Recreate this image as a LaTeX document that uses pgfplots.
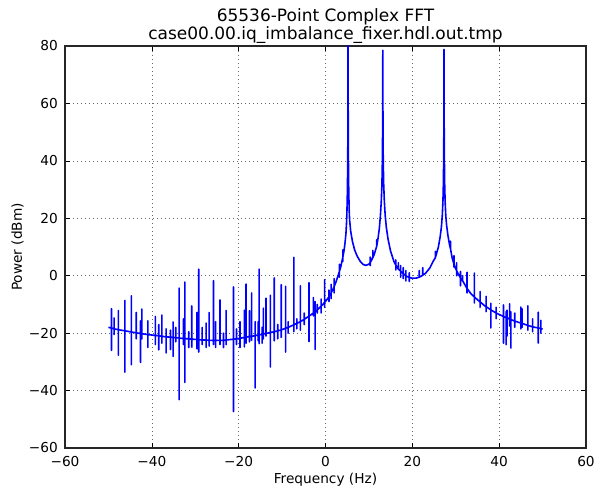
\documentclass[border=0pt]{standalone}
\usepackage{fontspec}
\setmainfont{DejaVu Sans}
\usepackage{pgfplots}
\pgfplotsset{compat=1.18}
\newcommand{\lblfont}{\fontsize{13.7bp}{16bp}\selectfont}
\newcommand{\ttlfont}{\fontsize{17bp}{20bp}\selectfont}
\begin{document}
\begin{tikzpicture}
\useasboundingbox (-65bp,-45bp) rectangle (538bp,448bp);
\begin{axis}[
 scale only axis, width=521bp, height=402bp,
 at={(0,0)}, anchor=south west,
 xmin=-60, xmax=60, ymin=-60, ymax=80,
 xtick={-60,-40,-20,0,20,40,60}, ytick={-60,-40,-20,0,20,40,60,80},
 xticklabels={−60,−40,−20,0,20,40,60},
 yticklabels={−60,−40,−20,0,20,40,60,80},
 tick align=inside, major tick length=5bp,
 tick style={black, line width=0.6bp},
 grid=major, grid style={black!60, line width=0.5bp, dash pattern=on 1bp off 3bp},
 axis line style={black!85, line width=1.1bp},
 ticklabel style={font=\lblfont, inner sep=0pt},
 xticklabel style={yshift=-8bp},
 yticklabel style={xshift=-7bp},
]
\addplot[blue, line width=1.6bp, line join=round] coordinates {
(-50,-18.0)
(-49.3,-18.2) (-49.3,-11.5) (-49.3,-26) (-49.3,-18.2)
(-48.7,-18.5) (-48.7,-14.7) (-48.7,-20.5) (-48.7,-18.5)
(-47.7,-18.8) (-47.7,-12.1) (-47.7,-27.7) (-47.7,-18.8)
(-46.2,-19.2) (-46.2,-8.6) (-46.2,-33.6) (-46.2,-19.2)
(-44.7,-19.6) (-44.7,-7) (-44.7,-31) (-44.7,-19.6)
(-43.6,-19.9) (-43.6,-12.8) (-43.6,-22) (-43.6,-19.9)
(-42.6,-20.1) (-42.6,-15.7) (-42.6,-30.2) (-42.6,-20.1)
(-42.3,-20.2) (-42.3,-11.6) (-42.3,-22) (-42.3,-20.2)
(-40.9,-20.5) (-40.9,-15.7) (-40.9,-25) (-40.9,-20.5)
(-39.2,-20.8) (-39.2,-14.2) (-39.2,-24) (-39.2,-20.8)
(-38.4,-20.9) (-38.4,-17) (-38.4,-25.8) (-38.4,-20.9)
(-37.7,-21.1) (-37.7,-13.7) (-37.7,-23.5) (-37.7,-21.1)
(-36.7,-21.3) (-36.7,-18.5) (-36.7,-26.9) (-36.7,-21.3)
(-35.7,-21.4) (-35.7,-19) (-35.7,-25.7) (-35.7,-21.4)
(-35.1,-21.5) (-35.1,-16.1) (-35.1,-28.1) (-35.1,-21.5)
(-34.5,-21.6) (-34.5,-18) (-34.5,-23) (-34.5,-21.6)
(-33.7,-21.7) (-33.7,-4.3) (-33.7,-43.2) (-33.7,-21.7)
(-32.7,-21.9) (-32.7,-15) (-32.7,-24) (-32.7,-21.9)
(-32.4,-21.9) (-32.4,-2.2) (-32.4,-37.2) (-32.4,-21.9)
(-31.5,-22.0) (-31.5,-19.5) (-31.5,-25) (-31.5,-22.0)
(-30.8,-22.1) (-30.8,-10.5) (-30.8,-24.9) (-30.8,-22.1)
(-29.6,-22.2) (-29.6,-12.8) (-29.6,-25.5) (-29.6,-22.2)
(-29.2,-22.3) (-29.2,2.3) (-29.2,-26.6) (-29.2,-22.3)
(-28.4,-22.4) (-28.4,-18) (-28.4,-24) (-28.4,-22.4)
(-27.5,-22.4) (-27.5,-16.5) (-27.5,-25) (-27.5,-22.4)
(-26.8,-22.5) (-26.8,-12.8) (-26.8,-24.5) (-26.8,-22.5)
(-25.8,-22.5) (-25.8,-1.7) (-25.8,-24) (-25.8,-22.5)
(-25.3,-22.5) (-25.3,-16) (-25.3,-25) (-25.3,-22.5)
(-24.3,-22.5) (-24.3,-8.4) (-24.3,-24) (-24.3,-22.5)
(-23.5,-22.5) (-23.5,-20) (-23.5,-25) (-23.5,-22.5)
(-22.9,-22.4) (-22.9,-12.1) (-22.9,-24) (-22.9,-22.4)
(-21.2,-22.1) (-21.2,-3.9) (-21.2,-47.3) (-21.2,-22.1)
(-20.5,-22.0) (-20.5,-18.5) (-20.5,-24) (-20.5,-22.0)
(-19.7,-21.8) (-19.7,-16) (-19.7,-25) (-19.7,-21.8)
(-18.7,-21.5) (-18.7,-12) (-18.7,-24.8) (-18.7,-21.5)
(-18.3,-21.4) (-18.3,-2.9) (-18.3,-23.5) (-18.3,-21.4)
(-17.5,-21.2) (-17.5,-12.2) (-17.5,-23) (-17.5,-21.2)
(-17.0,-21.1) (-17.0,-6) (-17.0,-22.5) (-17.0,-21.1)
(-16.2,-20.9) (-16.2,-16) (-16.2,-39.1) (-16.2,-20.9)
(-15.5,-20.6) (-15.5,-16) (-15.5,-22.7) (-15.5,-20.6)
(-15.3,-20.6) (-15.3,2.3) (-15.3,-23.7) (-15.3,-20.6)
(-14.6,-20.4) (-14.6,-18) (-14.6,-23.5) (-14.6,-20.4)
(-14.3,-20.3) (-14.3,-11.3) (-14.3,-22) (-14.3,-20.3)
(-13.7,-20.1) (-13.7,-7.8) (-13.7,-21) (-13.7,-20.1)
(-12.7,-19.8) (-12.7,-6.8) (-12.7,-31.8) (-12.7,-19.8)
(-11.8,-19.5) (-11.8,-0.8) (-11.8,-22.7) (-11.8,-19.5)
(-11.0,-19.2) (-11.0,-17) (-11.0,-22) (-11.0,-19.2)
(-10.2,-18.9) (-10.2,-3.1) (-10.2,-21.5) (-10.2,-18.9)
(-9.2,-18.3) (-9.2,-3.7) (-9.2,-26.6) (-9.2,-18.3)
(-8.6,-18.0) (-8.6,-16) (-8.6,-20) (-8.6,-18.0)
(-7.3,-17.1) (-7.3,6.4) (-7.3,-19.5) (-7.3,-17.1)
(-6.6,-16.6) (-6.6,-15) (-6.6,-18.5) (-6.6,-16.6)
(-5.8,-16.0) (-5.8,-3.5) (-5.8,-19) (-5.8,-16.0)
(-4.9,-15.2) (-4.9,-13) (-4.9,-17) (-4.9,-15.2)
(-3.8,-14.1) (-3.8,-2.4) (-3.8,-22.9) (-3.8,-14.1)
(-2.8,-13.0) (-2.8,-7.6) (-2.8,-14) (-2.8,-13.0)
(-2.4,-12.5) (-2.4,-9) (-2.4,-25.7) (-2.4,-12.5)
(-1.9,-11.9) (-1.9,-10) (-1.9,-13) (-1.9,-11.9)
(-1.0,-10.6) (-1.0,-8.1) (-1.0,-13) (-1.0,-10.6)
(-0.2,-9.3) (-0.2,-1.4) (-0.2,-11) (-0.2,-9.3)
(0.5,-8.0)
(0.8,-7.3) (0.8,-5) (0.8,-9) (0.8,-7.3)
(1.3,-6.0) (1.3,-3) (1.3,-8) (1.3,-6.0)
(2.0,-3.8) (2.0,-1) (2.0,-6) (2.0,-3.8)
(2.5,-1.8) (3.0,0.5)
(3.2,1.5) (3.2,4) (3.2,-0.5) (3.2,1.5)
(3.5,3.0)
(4.0,6.5) (4.0,9) (4.0,5) (4.0,6.5)
(4.3,9.0) (4.5,11.5) (4.7,14.5) (4.85,18.5) (4.95,23) (5.05,30) (5.12,40) (5.17,55)
(5.2,95)
(5.23,55) (5.28,40) (5.35,30) (5.45,23) (5.55,19.5) (5.8,15.5) (6.2,12) (6.7,9)
(7.3,6.8) (8.0,5) (8.7,3.9) (9.3,3.6) (10.0,4.0)
(10.3,4.6) (10.3,6.5) (10.3,3.5) (10.3,4.6)
(10.6,5.4)
(10.9,6.3) (10.9,8.8) (10.9,6.3)
(11.2,7.3) (11.7,9.8)
(11.8,10.3) (11.8,12.5) (11.8,10.3)
(12.1,13) (12.4,16.5) (12.65,21) (12.85,26) (13.0,32) (13.1,40) (13.16,52)
(13.2,78.5)
(13.24,52) (13.3,40) (13.4,32) (13.55,26) (13.75,21) (14.0,17) (14.4,12.8) (15.0,8.5) (15.8,4.8)
(16.2,3.7) (16.2,5.5) (16.2,2) (16.2,3.7)
(16.7,2.5)
(16.8,2.3) (16.8,4.5) (16.8,2.3)
(17.3,1.6) (17.3,3.5) (17.3,-0.5) (17.3,1.6)
(17.7,1.0)
(17.9,0.7) (17.9,2.8) (17.9,-1) (17.9,0.7)
(18.5,0) (18.5,1.8) (18.5,-1.8) (18.5,0)
(18.8,-0.3)
(19.3,-0.6) (19.3,1) (19.3,-2) (19.3,-0.6)
(20.0,-0.9) (21.0,-0.8)
(21.6,-0.5) (21.6,1.8) (21.6,-0.5)
(22.0,-0.2)
(22.4,0.2) (22.4,2.8) (22.4,0.2)
(23.0,0.8) (24.0,2.6) (24.8,5)
(25.3,6.3) (25.3,8.5) (25.3,6.3)
(25.5,7.3) (26.0,10) (26.4,13.5) (26.7,17) (26.9,21) (27.05,26) (27.15,32) (27.22,41) (27.27,54)
(27.3,78.8)
(27.33,54) (27.38,41) (27.45,32) (27.55,26) (27.7,21) (27.9,17.5) (28.2,14) (28.6,10.5)
(28.8,9.3) (28.8,12) (28.8,9.3)
(29.2,6)
(29.6,4) (29.6,7) (29.6,3) (29.6,4)
(29.8,3)
(30.2,1.8) (30.2,4.5) (30.2,0) (30.2,1.8)
(30.5,0.8)
(31.1,-0.8) (31.1,1.5) (31.1,-3.5) (31.1,-0.8)
(31.5,-1.6)
(31.6,-1.8) (31.6,0) (31.6,-1.8)
(32.5,-4.2)
(32.6,-4.4) (32.6,1.2) (32.6,-6) (32.6,-4.4)
(33.5,-6.3)
(34.3,-7.4) (34.3,0.9) (34.3,-9.5) (34.3,-7.4)
(34.5,-7.7) (35.5,-9.0)
(35.6,-9.1) (35.6,-5.5) (35.6,-11) (35.6,-9.1)
(36.6,-10.4)
(37.0,-10.8) (37.0,-7.2) (37.0,-12.5) (37.0,-10.8)
(38.0,-11.8)
(38.1,-11.9) (38.1,-9.6) (38.1,-18.2) (38.1,-11.9)
(39.3,-13) (39.3,-11) (39.3,-15) (39.3,-13)
(40,-13.5)
(41.0,-14.2) (41.0,-10.2) (41.0,-23.5) (41.0,-14.2)
(41.6,-14.6) (41.6,-12.5) (41.6,-24) (41.6,-14.6)
(41.8,-14.7) (41.8,-12) (41.8,-21) (41.8,-14.7)
(42.4,-15.1) (42.4,-9.8) (42.4,-17.5) (42.4,-15.1)
(42.7,-15.3) (42.7,-12.6) (42.7,-25.2) (42.7,-15.3)
(43.6,-15.8) (43.6,-13) (43.6,-18) (43.6,-15.8)
(44,-16.0)
(45.0,-16.5) (45.0,-10.9) (45.0,-18.5) (45.0,-16.5)
(45.3,-16.6) (45.3,-11.5) (45.3,-18) (45.3,-16.6)
(46.0,-17.0)
(46.6,-17.3) (46.6,-10.5) (46.6,-19) (46.6,-17.3)
(47.7,-17.8) (47.7,-15) (47.7,-19.5) (47.7,-17.8)
(48,-17.9)
(49.0,-18.2) (49.0,-12.7) (49.0,-23.5) (49.0,-18.2)
(49.6,-18.4) (49.6,-15.5) (49.6,-20) (49.6,-18.4)
(50,-18.6)
};
\end{axis}
\node[anchor=base, font=\ttlfont] at (260.5bp,426bp) {65536-Point Complex FFT};
\node[anchor=base, font=\ttlfont] at (260.5bp,408.5bp) {case00.00.iq\_imbalance\_fixer.hdl.out.tmp};
\node[anchor=base, font=\lblfont] at (260.5bp,-35bp) {Frequency (Hz)};
\node[anchor=base, rotate=90, font=\lblfont] at (-43bp,201bp) {Power (dBm)};
\end{tikzpicture}
\end{document}
